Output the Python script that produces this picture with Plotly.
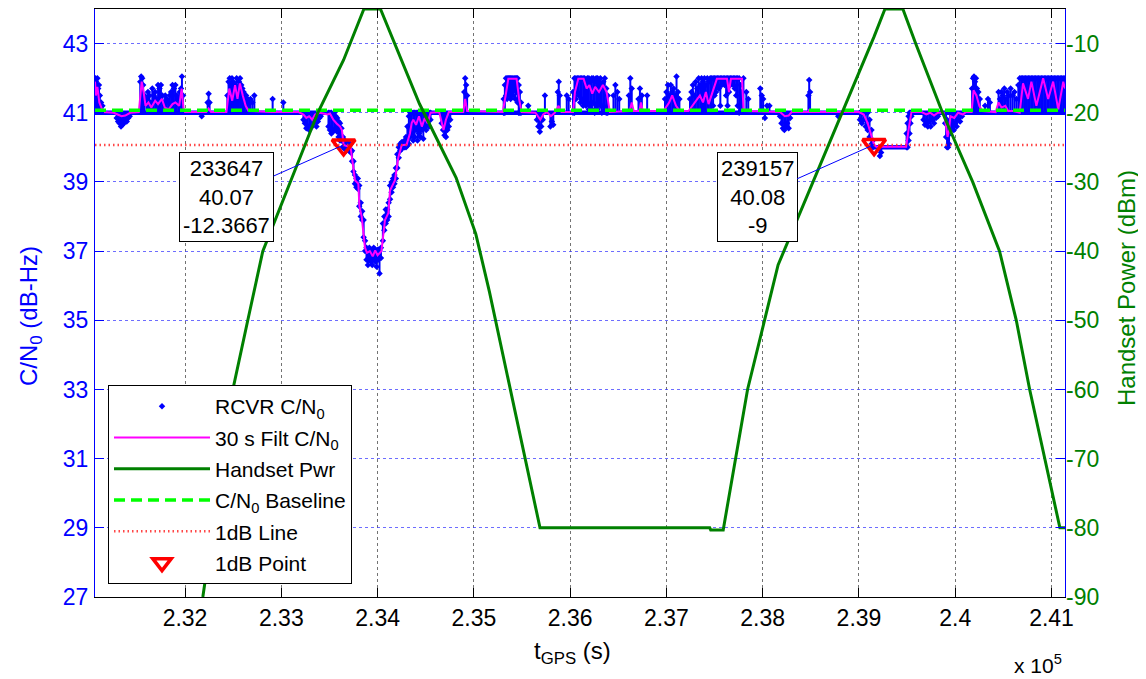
import plotly.graph_objects as go

# ---------------- axes / ticks ----------------
x_tick_vals = [232000, 233000, 234000, 235000, 236000, 237000, 238000, 239000, 240000, 241000]
x_tick_text = ["2.32", "2.33", "2.34", "2.35", "2.36", "2.37", "2.38", "2.39", "2.4", "2.41"]
cn0_tick_vals = [27, 29, 31, 33, 35, 37, 39, 41, 43]
pwr_tick_vals = [-90, -80, -70, -60, -50, -40, -30, -20, -10]
pwr_tick_text = ["-90", "-80", "-70", "-60", "-50", "-40", "-30", "-20", "-10"]
x_range = [231065, 241140]
cn0_range = [27, 44]
pwr_range = [-90, -5]

# ---------------- reference levels ----------------
cn0_floor = 41.0
baseline_cn0 = 41.07
one_db_cn0 = 40.07

# 1 dB points (time, C/N0, handset power)
one_db_t = [233647, 239157]
one_db_v = [40.07, 40.08]
one_db_pwr = [-12.3667, -9]

# ---------------- receiver C/N0 ----------------
# constant-level runs of the receiver output
floor_t0 = [231065, 234545, 239150, 239545]
floor_t1 = [233480, 239010, 239495, 241140]
floor_v = [41.0, 41.0, 40.0, 41.0]

# excursions upward from the 41 dB-Hz floor (time, top value)
up_t = [231068, 231075, 231082, 231090, 231098, 231106, 231115, 231128, 231142,
        231535, 231545, 231555, 231565, 231578,
        231600, 231615, 231630, 231645, 231660, 231675, 231690, 231705, 231720, 231735,
        231750, 231765, 231780, 231795, 231810, 231825, 231840, 231855, 231870, 231885,
        231900, 231915, 231930, 231945, 231958, 231968, 231980,
        232235, 232245, 232255,
        232440, 232452, 232464, 232476, 232488, 232500, 232512, 232524, 232536, 232548,
        232560, 232572, 232584, 232596, 232608, 232620, 232635, 232650, 232665, 232680,
        232700, 232720,
        232910, 233021,
        234900, 234910, 234920, 234930,
        235565, 235738, 235872, 235882, 235892, 235965, 235985,
        236450, 236470, 236490, 236510, 236610, 236625, 236640, 236710, 236725, 236745, 236800,
        236985, 237000, 237015, 237030, 237045, 237060, 237075, 237090, 237105, 237120, 237135,
        237245, 237260, 237275, 237290, 237305, 237320, 237335, 237350, 237365, 237380,
        237395, 237410, 237425, 237440, 237455, 237470,
        237770, 237785, 237800,
        237830, 237850, 237975, 237990, 238005, 238045, 238070,
        238475, 238483, 238492,
        240175, 240185, 240195, 240205, 240215, 240225, 240240, 240255,
        240310, 240340, 240360,
        240450, 240465, 240480, 240495, 240510, 240525, 240540, 240555, 240575, 240595,
        240615, 240635,
        240655, 240670, 240685, 240700, 240715, 240730, 240745, 240760, 240775, 240790,
        240805, 240820, 240835, 240850, 240865, 240880, 240895, 240910, 240925, 240940,
        240955, 240970, 240985, 241000, 241015, 241030, 241045, 241060, 241075, 241090,
        241105, 241120, 241135]
up_hi = [42.0, 41.9, 41.6, 42.0, 41.7, 41.8, 41.5, 41.3, 41.2,
         41.9, 42.05, 42.0, 41.8, 41.5,
         41.4, 41.6, 41.5, 41.3, 41.7, 41.5, 41.6, 41.4, 41.8, 41.7,
         41.8, 41.5, 41.3, 41.5, 41.4, 41.3, 41.5, 41.6, 41.8, 41.7,
         41.8, 41.5, 41.4, 41.6, 41.7, 42.05, 41.5,
         41.3, 41.55, 41.3,
         41.5, 41.9, 42.0, 41.8, 42.0, 41.9, 41.6, 41.8, 42.0, 41.7,
         41.9, 42.0, 41.8, 41.7, 41.6, 41.5, 41.5, 41.4, 41.3, 41.4,
         41.3, 41.5,
         41.4, 41.3,
         41.6, 42.0, 41.8, 41.5,
         41.2, 41.5, 41.6, 41.9, 41.5, 41.5, 41.4,
         41.5, 41.8, 41.6, 41.4, 41.5, 42.0, 41.7, 41.4, 41.7, 41.5, 41.5,
         41.4, 41.6, 41.8, 41.5, 41.8, 41.6, 41.7, 41.5, 42.05, 41.6, 41.4,
         41.4, 41.6, 41.8, 41.5, 41.9, 41.7, 42.0, 41.8, 42.0, 41.9,
         42.0, 41.8, 42.0, 41.9, 42.0, 42.0,
         41.8, 41.6, 42.0,
         41.6, 41.4, 41.7, 41.5, 41.4, 41.2, 41.2,
         41.5, 41.95, 41.6,
         41.7, 42.0, 42.05, 41.9, 42.0, 41.7, 41.6, 41.4,
         41.2, 41.4, 41.3,
         41.6, 41.4, 41.6, 41.5, 41.7, 41.4, 41.6, 41.5, 41.7, 41.5,
         41.6, 41.4,
         41.8, 42.0, 42.0, 42.0, 42.0, 42.0, 42.0, 42.0, 42.0, 42.0,
         42.0, 42.0, 42.0, 42.0, 42.0, 42.0, 42.0, 42.0, 42.0, 42.0,
         42.0, 42.0, 42.0, 42.0, 42.0, 42.0, 42.0, 42.0, 42.0, 42.0,
         42.0, 42.0, 42.0]

# excursions downward from the 41 dB-Hz floor (time, bottom value)
dn_t = [231290, 231305, 231320, 231335, 231350, 231365, 231380, 231395, 231410, 231425,
        232173,
        233230, 233245, 233260, 233275, 233290, 233305, 233320, 233335, 233350, 233365,
        233380, 233395, 233410,
        234665, 234680, 234695, 234710, 234725, 234740, 234755,
        235655, 235670, 235685, 235700, 235715, 235795, 235810, 235825,
        238023,
        238180, 238195, 238210, 238225, 238240, 238255, 238270, 238285,
        238785,
        239670, 239685, 239700, 239715, 239730, 239745, 239760, 239780, 239800, 239820,
        239895, 239905, 239945, 239955, 239970, 239985, 240000, 240015, 240030, 240050, 240070]
dn_lo = [40.85, 40.75, 40.7, 40.6, 40.65, 40.7, 40.8, 40.75, 40.85, 40.9,
         40.9,
         40.8, 40.7, 40.55, 40.6, 40.5, 40.65, 40.6, 40.7, 40.8, 40.6,
         40.75, 40.85, 40.9,
         40.7, 40.5, 40.35, 40.3, 40.5, 40.6, 40.8,
         40.8, 40.6, 40.45, 40.6, 40.8, 40.6, 40.75, 40.65,
         40.85,
         40.9, 40.7, 40.55, 40.5, 40.6, 40.7, 40.55, 40.85,
         40.9,
         40.8, 40.65, 40.7, 40.6, 40.75, 40.6, 40.8, 40.7, 40.85, 40.9,
         40.7, 40.3, 40.4, 40.5, 40.6, 40.5, 40.7, 40.6, 40.8, 40.75, 40.9]

# spread of values where the receiver left the floor (time, low, high)
band_t = [233490, 233505, 233520, 233535, 233550, 233565, 233580, 233595, 233610, 233625, 233640,
          233660, 233675, 233690, 233705, 233720, 233735, 233750, 233765, 233780, 233795,
          233810, 233825, 233840, 233855, 233870, 233885, 233900, 233915, 233930, 233945,
          233960, 233975, 233990, 234005, 234020, 234035,
          234055, 234070, 234085, 234100, 234115, 234130, 234145, 234160, 234175, 234190,
          234205, 234220, 234235, 234250, 234265, 234280, 234295, 234310, 234325, 234340,
          234355, 234370, 234385, 234400, 234415, 234430, 234445, 234460, 234475, 234490,
          234505, 234520, 234535, 234550,
          235310, 235322, 235334, 235346, 235358, 235370, 235382, 235394, 235406, 235418,
          235430, 235442, 235454, 235466, 235478, 235490,
          236030, 236045, 236060, 236075, 236090, 236105, 236120, 236135, 236150, 236165,
          236180, 236195, 236210, 236225, 236240, 236255, 236270, 236285, 236300, 236315,
          236330, 236345, 236360, 236375, 236390,
          237485, 237500, 237515, 237530, 237545, 237560, 237575, 237590, 237605, 237620,
          237635, 237650, 237665, 237680, 237695, 237710, 237725, 237740, 237755,
          239010, 239030, 239050, 239070, 239090, 239110, 239130, 239145,
          239217, 239230,
          239495, 239505, 239515, 239525, 239535, 239545,
          239915, 239925, 239935]
band_lo = [40.6, 40.5, 40.4, 40.45, 40.5, 40.55, 40.45, 40.3, 40.2, 40.2, 40.0,
           39.95, 39.9, 39.95, 39.9, 39.85, 39.6, 39.3, 38.95, 38.85, 38.8,
           38.3, 38.0, 37.9, 37.4, 37.0, 36.75, 36.6, 36.8, 36.7, 36.6,
           36.8, 36.7, 36.55, 36.75, 36.35, 36.8,
           37.3, 37.6, 37.8, 37.9, 38.0, 38.5, 38.7, 38.85, 38.95, 39.1,
           39.4, 39.7, 39.9, 39.95, 40.0, 40.0, 40.0, 40.05, 40.1, 40.3,
           40.4, 40.2, 40.3, 40.5, 40.2, 40.4, 40.3, 40.5, 40.25, 40.6,
           40.5, 40.7, 40.6, 40.8,
           41.0, 41.0, 41.5, 41.4, 41.6, 41.5, 41.4, 41.6, 41.5, 41.7,
           41.4, 41.6, 41.3, 41.0, 41.0, 41.0,
           41.0, 41.0, 41.4, 41.6, 41.5, 41.3, 41.4, 41.2, 41.3, 41.2,
           41.3, 41.1, 41.2, 41.1, 41.3, 41.0, 41.2, 41.1, 41.3, 41.2,
           41.0, 41.2, 41.1, 41.0, 41.0,
           41.2, 41.5, 41.6, 41.8, 41.7, 41.2, 41.8, 41.9, 41.8, 41.5,
           41.2, 41.6, 41.8, 41.9, 41.8, 41.7, 41.5, 41.2, 41.0,
           40.8, 40.7, 40.8, 40.6, 40.5, 40.3, 40.1, 40.0,
           39.75, 39.85,
           40.0, 40.0, 40.2, 40.4, 40.7, 40.9,
           40.0, 40.0, 40.1]
band_hi = [41.0, 41.0, 41.0, 40.95, 41.0, 40.9, 40.85, 40.75, 40.7, 40.55, 40.3,
           40.2, 40.15, 40.1, 40.1, 40.1, 39.9, 39.6, 39.2, 39.1, 39.1,
           38.9, 38.4, 38.15, 37.9, 37.3, 37.1, 37.05, 37.1, 37.05, 37.0,
           37.1, 37.05, 37.0, 37.05, 37.0, 37.1,
           37.8, 38.0, 38.2, 38.2, 38.4, 38.9, 39.0, 39.1, 39.2, 39.4,
           39.8, 40.0, 40.1, 40.15, 40.15, 40.2, 40.3, 40.6, 40.9, 41.0,
           41.0, 41.0, 41.0, 41.0, 41.0, 41.0, 41.0, 41.0, 41.0, 41.0,
           41.0, 41.0, 41.0, 41.0,
           41.4, 41.8, 42.0, 42.0, 42.0, 42.0, 42.0, 42.0, 42.0, 42.0,
           42.0, 42.0, 42.0, 41.8, 41.6, 41.3,
           41.6, 42.0, 42.0, 42.0, 42.0, 42.0, 42.0, 42.0, 42.0, 41.9,
           42.0, 42.0, 41.9, 42.0, 42.0, 41.9, 42.0, 42.0, 41.9, 42.0,
           41.8, 41.9, 42.0, 41.7, 41.5,
           42.0, 42.0, 42.0, 42.0, 42.0, 42.0, 42.0, 42.0, 42.0, 42.0,
           42.0, 42.0, 42.0, 42.0, 42.0, 42.0, 42.0, 42.0, 42.0,
           41.0, 41.0, 41.0, 41.0, 41.0, 40.8, 40.5, 40.2,
           40.0, 40.0,
           40.4, 40.7, 40.9, 41.0, 41.0, 41.0,
           40.8, 40.6, 40.7]

# ---------------- 30 s filtered C/N0 ----------------
filt_t = [231065, 231075, 231090, 231110, 231150, 231260, 231300, 231340, 231380, 231430,
          231520, 231550, 231570, 231590, 231620, 231650, 231690, 231720, 231760, 231790,
          231830, 231870, 231900, 231940, 231965, 231985, 232000, 232220, 232245, 232270,
          232430, 232460, 232490, 232520, 232545, 232570, 232600, 232630, 232660, 232900,
          233180, 233230, 233260, 233290, 233320, 233350, 233400, 233480, 233506, 233540,
          233575, 233610, 233630, 233647, 233720, 233748, 233765, 233800, 233811, 233835,
          233869, 233890, 233920, 233950, 233975, 234000, 234040, 234077, 234112, 234129,
          234181, 234215, 234250, 234302, 234336, 234354, 234371, 234400, 234430, 234460,
          234490, 234520, 234550, 234640, 234670, 234685, 234710, 234740, 234890, 234910,
          234930, 235300, 235330, 235358, 235444, 235470, 235496, 235640, 235690, 235720,
          235760, 235800, 235840, 235880, 235910, 236030, 236050, 236085, 236140, 236171,
          236200, 236230, 236260, 236300, 236340, 236379, 236413, 236620, 236640, 236660,
          236720, 236735, 236755, 236970, 237030, 237060, 237100, 237140, 237230, 237270,
          237310, 237348, 237380, 237410, 237438, 237480, 237524, 237629, 237650, 237670,
          237785, 237802, 238180, 238230, 238270, 238300, 238478, 238485, 238492, 239000,
          239050, 239090, 239120, 239157, 239180, 239490, 239520, 239545, 239650, 239700,
          239740, 239780, 239820, 239880, 239905, 239920, 239935, 239950, 239990, 240030,
          240080, 240110, 240170, 240190, 240220, 240250, 240280, 240420, 240450, 240480,
          240520, 240550, 240600, 240669, 240704, 240756, 240791, 240843, 240913, 240965,
          241017, 241070, 241122, 241140]
filt_v = [41.9, 41.5, 41.75, 41.3, 41.02, 41.0, 40.95, 40.9, 40.92, 41.0,
          41.02, 41.9, 41.6, 41.2, 41.3, 41.15, 41.35, 41.25, 41.4, 41.15,
          41.1, 41.25, 41.3, 41.2, 41.7, 41.1, 41.02, 41.02, 41.12, 41.02,
          41.02, 41.7, 41.35, 41.8, 41.4, 41.85, 41.5, 41.2, 41.05, 41.02,
          41.02, 40.95, 40.85, 40.9, 40.8, 40.95, 41.0, 40.95, 40.98, 40.8,
          40.69, 40.6, 40.5, 40.07, 40.0, 39.45, 39.05, 38.95, 38.3, 38.0,
          37.1, 36.95, 37.0, 36.85, 37.02, 36.88, 37.0, 37.9, 38.1, 38.75,
          39.05, 39.7, 40.06, 40.08, 40.4, 40.7, 40.8, 40.65, 40.9, 40.6,
          40.85, 40.7, 41.0, 41.02, 40.7, 40.5, 40.8, 41.02, 41.02, 41.4,
          41.05, 41.02, 41.5, 41.98, 41.98, 41.4, 41.02, 41.0, 40.8, 40.95,
          41.02, 40.9, 41.0, 41.2, 41.02, 41.02, 41.6, 41.98, 41.98, 41.7,
          41.8, 41.55, 41.75, 41.6, 41.8, 41.6, 41.02, 41.05, 41.3, 41.05,
          41.05, 41.3, 41.05, 41.05, 41.3, 41.5, 41.2, 41.05, 41.05, 41.2,
          41.35, 41.5, 41.3, 41.6, 41.25, 41.6, 41.98, 41.98, 41.6, 41.98,
          41.98, 41.05, 41.02, 40.9, 40.92, 41.02, 41.02, 41.1, 41.02, 41.02,
          40.95, 40.7, 40.4, 40.08, 40.02, 40.02, 40.6, 41.02, 41.02, 40.95,
          41.0, 40.92, 41.0, 41.0, 40.6, 40.3, 40.5, 40.9, 40.85, 41.0,
          40.95, 41.02, 41.02, 41.65, 41.5, 41.2, 41.05, 41.02, 41.3, 41.15,
          41.2, 41.05, 41.05, 41.0, 41.85, 41.4, 41.9, 41.2, 42.0, 41.4,
          41.9, 41.1, 41.9, 41.7]

# ---------------- handset power (dBm) ----------------
pwr_t = [232185, 232497, 232652, 232808, 233379, 233647, 233858, 234030, 234435, 234816,
         235020, 235162, 235687, 237450, 237460, 237590, 237843, 238023, 238160, 239157,
         239270, 239456, 239589, 239868, 240181, 240460, 240634, 240773, 240930, 241087,
         241140]
pwr_v = [-90, -60, -50, -40, -20, -12.37, -5, -5, -18.7, -29.4,
         -37.5, -45.9, -80, -80, -80.3, -80.3, -60, -50, -42, -9,
         -5, -5, -10, -20, -30, -40, -50, -60, -70, -80,
         -80]

# ---------------- build segments ----------------
col_x, col_y, tip_x, tip_y = [], [], [], []
for t, hi in zip(up_t, up_hi):
    col_x += [t, t, None]
    col_y += [cn0_floor, hi, None]
    tip_x.append(t)
    tip_y.append(hi)
for t, lo in zip(dn_t, dn_lo):
    col_x += [t, t, None]
    col_y += [lo, cn0_floor, None]
    tip_x.append(t)
    tip_y.append(lo)
for t, lo, hi in zip(band_t, band_lo, band_hi):
    col_x += [t, t, None]
    col_y += [lo, hi, None]
    tip_x += [t, t]
    tip_y += [lo, hi]

flr_x, flr_y = [], []
for a, b, v in zip(floor_t0, floor_t1, floor_v):
    flr_x += [a, b, None]
    flr_y += [v, v, None]

BLUE = "#0000FF"
GREEN_DARK = "#008000"
FONT = "Liberation Sans, Arial, sans-serif"

fig = go.Figure()
fig.add_trace(go.Scatter(x=flr_x, y=flr_y, mode="lines", line=dict(color=BLUE, width=4.5),
                         showlegend=False, legendgroup="g1", hoverinfo="skip"))
fig.add_trace(go.Scatter(x=col_x, y=col_y, mode="lines", line=dict(color=BLUE, width=2),
                         showlegend=False, legendgroup="g1", hoverinfo="skip"))
fig.add_trace(go.Scatter(x=tip_x, y=tip_y, mode="markers", name="RCVR C/N<sub>0</sub>",
                         marker=dict(symbol="diamond", size=5, color=BLUE),
                         legendgroup="g1", legendrank=1))
fig.add_trace(go.Scatter(x=filt_t, y=filt_v, mode="lines", name="30 s Filt C/N<sub>0</sub>",
                         line=dict(color="#FF00FF", width=2), legendgroup="g2", legendrank=2))
fig.add_trace(go.Scatter(x=x_range, y=[baseline_cn0, baseline_cn0], mode="lines",
                         name="C/N<sub>0</sub> Baseline",
                         line=dict(color="#00FF00", width=3.5, dash="11px,6px"),
                         legendgroup="g4", legendrank=4))
fig.add_trace(go.Scatter(x=x_range, y=[one_db_cn0, one_db_cn0], mode="lines", name="1dB Line",
                         line=dict(color="rgba(255,40,40,0.85)", width=2.5, dash="1.5px,3px"),
                         legendgroup="g5", legendrank=5))
fig.add_trace(go.Scatter(x=one_db_t, y=one_db_v, mode="markers", name="1dB Point",
                         marker=dict(symbol="triangle-down-open", size=20, color="#FF0000",
                                     line=dict(width=3.5, color="#FF0000")),
                         legendgroup="g6", legendrank=6))
fig.add_trace(go.Scatter(x=pwr_t, y=pwr_v, mode="lines", name="Handset Pwr", yaxis="y2",
                         line=dict(color=GREEN_DARK, width=3), legendgroup="g3", legendrank=3))

# data tips
for t, v, p in zip(one_db_t, one_db_v, one_db_pwr):
    fig.add_annotation(x=t, y=v, xref="x", yref="y",
                       text=f"{t}<br>{v:.2f}<br>{p:g}",
                       showarrow=True, arrowhead=0, arrowwidth=1, arrowcolor=BLUE,
                       ax=-117, ay=52, standoff=0,
                       bordercolor="black", borderwidth=1, borderpad=3, bgcolor="white",
                       font=dict(family=FONT, size=22, color="black"), align="center")

# axis titles and multiplier (paper coords relative to the plot area)
fig.add_annotation(text="C/N<sub>0</sub> (dB-Hz)", xref="paper", yref="paper",
                   x=(30 - 95) / 970, y=(597 - 316) / 588, textangle=-90, showarrow=False,
                   xanchor="center", yanchor="middle", font=dict(family=FONT, size=24, color=BLUE))
fig.add_annotation(text="Handset Power (dBm)", xref="paper", yref="paper",
                   x=(1126 - 95) / 970, y=(597 - 288) / 588, textangle=-90, showarrow=False,
                   xanchor="center", yanchor="middle", font=dict(family=FONT, size=24, color=GREEN_DARK))
fig.add_annotation(text="t<sub>GPS</sub> (s)", xref="paper", yref="paper",
                   x=(572 - 95) / 970, y=(597 - 652) / 588, showarrow=False,
                   xanchor="center", yanchor="middle", font=dict(family=FONT, size=24, color="black"))
fig.add_annotation(text="x 10<sup>5</sup>", xref="paper", yref="paper",
                   x=(1064 - 95) / 970, y=(597 - 664) / 588, showarrow=False,
                   xanchor="right", yanchor="middle", font=dict(family=FONT, size=21, color="black"))

# the page places the figure 8 px from the top-left corner of the window
fig.update_layout(
    width=1138, height=671,
    margin=dict(l=87, r=81, t=1, b=82),
    paper_bgcolor="white", plot_bgcolor="white",
    font=dict(family=FONT, size=22, color="black"),
    xaxis=dict(range=x_range, tickvals=x_tick_vals, ticktext=x_tick_text,
               ticks="inside", ticklen=9, tickcolor="black", showline=True, linecolor="black",
               mirror="ticks", showgrid=True, gridcolor="rgba(0,0,0,0.55)", griddash="dot",
               gridwidth=1, zeroline=False, tickfont=dict(size=23, color="black"),
               ticklabelstandoff=0),
    yaxis=dict(range=cn0_range, tickvals=cn0_tick_vals, ticks="inside", ticklen=9,
               tickcolor=BLUE, showline=True, linecolor=BLUE, mirror="ticks",
               showgrid=True, gridcolor="rgba(60,60,255,0.75)", griddash="dot", gridwidth=1,
               zeroline=False, tickfont=dict(size=23, color=BLUE), ticklabelstandoff=1),
    yaxis2=dict(range=pwr_range, overlaying="y", side="right", tickvals=pwr_tick_vals,
                ticktext=pwr_tick_text, ticks="", showgrid=False, zeroline=False,
                showline=False, tickfont=dict(size=23, color=GREEN_DARK), ticklabelstandoff=0),
    legend=dict(x=(108 - 95) / 970, y=(597 - 385) / 588, xanchor="left", yanchor="top",
                bgcolor="white", bordercolor="black", borderwidth=1,
                font=dict(family=FONT, size=21, color="black"), tracegroupgap=1,
                itemwidth=96),
    showlegend=True,
)

fig.write_html("out.html")
